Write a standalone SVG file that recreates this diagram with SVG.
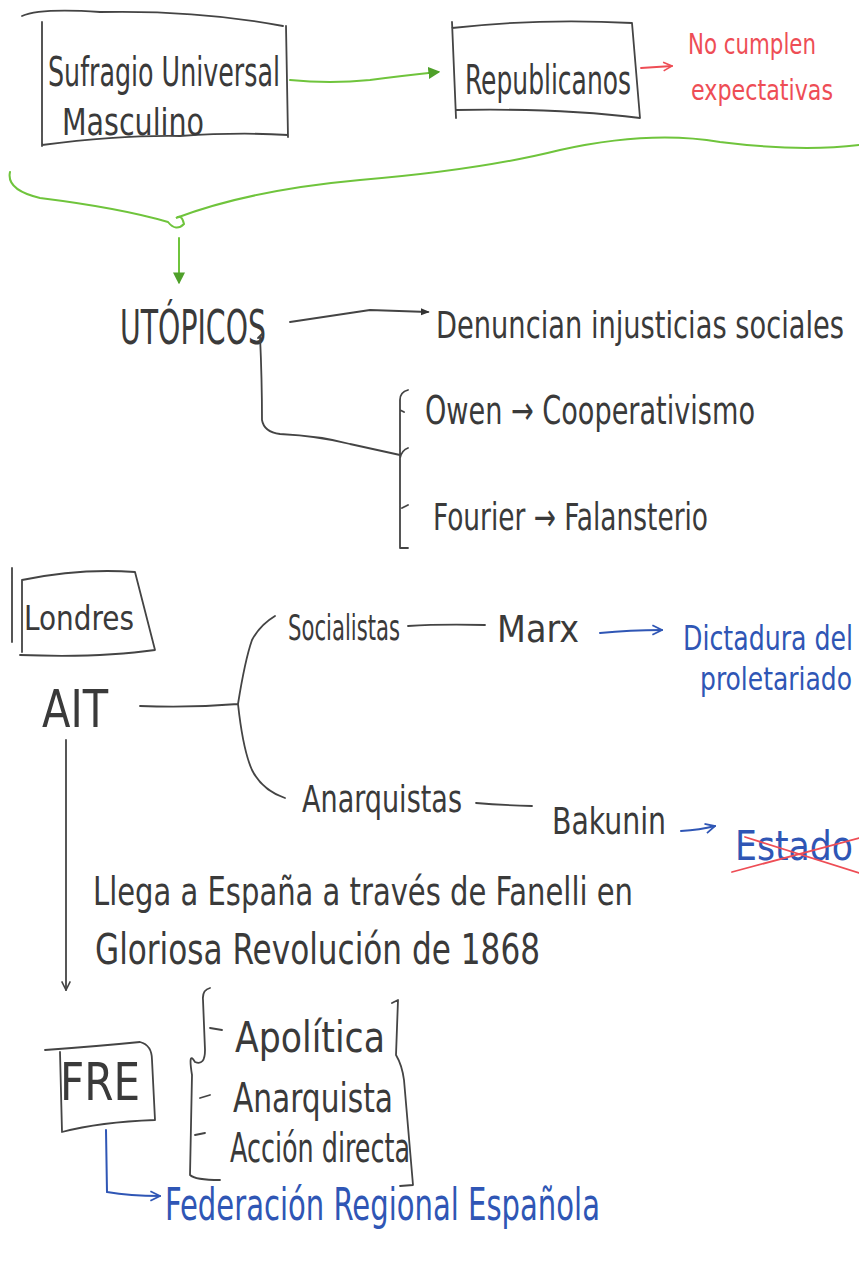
<svg xmlns="http://www.w3.org/2000/svg" width="859" height="1261" viewBox="0 0 859 1261">
<defs>
<style>
.t{font-family:"Liberation Sans Narrow","DejaVu Sans Condensed","Liberation Sans",sans-serif;fill:#3a3a3a;}
.g{fill:none;stroke:#6fc43c;stroke-width:2;stroke-linecap:round;}
.k{fill:none;stroke:#444;stroke-width:1.8;stroke-linecap:round;stroke-linejoin:round;}
.r{fill:none;stroke:#ee4d55;stroke-width:1.8;stroke-linecap:round;}
.b{fill:none;stroke:#2f56b5;stroke-width:2;stroke-linecap:round;}
.red{fill:#ee4d55;font-family:"Liberation Sans Narrow","DejaVu Sans Condensed","Liberation Sans",sans-serif;}
.blue{fill:#2f56b5;font-family:"Liberation Sans Narrow","DejaVu Sans Condensed","Liberation Sans",sans-serif;}
</style>
<marker id="ag" viewBox="0 0 10 10" refX="8" refY="5" markerWidth="6" markerHeight="6" orient="auto"><path d="M0,0 L10,5 L0,10 z" fill="#4fa02a"/></marker>
<marker id="ak" viewBox="0 0 10 10" refX="8" refY="5" markerWidth="5" markerHeight="5" orient="auto"><path d="M0,1 L10,5 L0,9 z" fill="#333"/></marker>
<marker id="ao" viewBox="0 0 10 10" refX="9" refY="5" markerWidth="6" markerHeight="6" orient="auto"><path d="M1,1 L9,5 L1,9" fill="none" stroke="#444" stroke-width="1.5"/></marker>
<marker id="ar" viewBox="0 0 10 10" refX="9" refY="5" markerWidth="6" markerHeight="6" orient="auto"><path d="M1,1 L9,5 L1,9" fill="none" stroke="#ee4d55" stroke-width="1.5"/></marker>
<marker id="ab" viewBox="0 0 10 10" refX="9" refY="5" markerWidth="6" markerHeight="6" orient="auto"><path d="M1,1 L9,5 L1,9" fill="none" stroke="#2f56b5" stroke-width="1.5"/></marker>
</defs>
<rect width="859" height="1261" fill="#fff"/>

<g id="sufragio">
<path class="k" d="M22,16 Q40,8 100,12 Q200,10 283,26 M42,22 L42,146 M286,26 L288,137 M42,145 Q120,135 180,136 Q240,132 288,135"/>
<text class="t" x="48" y="86" font-size="40" textLength="232" lengthAdjust="spacingAndGlyphs">Sufragio Universal</text>
<text class="t" x="62" y="135" font-size="38" textLength="142" lengthAdjust="spacingAndGlyphs">Masculino</text>
</g>

<g id="republicanos">
<path class="k" d="M452,22 L456,118 M452,28 Q540,18 632,23 M632,23 L640,118 M456,110 Q560,108 640,118"/>
<text class="t" x="465" y="94" font-size="40" textLength="166" lengthAdjust="spacingAndGlyphs">Republicanos</text>
</g>

<g id="expectativas">
<text class="red" transform="translate(688,54) scale(1,1.15)" font-size="25" textLength="128" lengthAdjust="spacingAndGlyphs">No cumplen</text>
<text class="red" transform="translate(691,100) scale(1,1.2)" font-size="23" textLength="142" lengthAdjust="spacingAndGlyphs">expectativas</text>
</g>

<g id="utopicos">
<text class="t" x="120" y="344" font-size="48" textLength="146" lengthAdjust="spacingAndGlyphs">UTÓPICOS</text>
</g>

<g id="denuncian">
<text class="t" transform="translate(436,338) scale(1,1.5)" font-size="25" textLength="408" lengthAdjust="spacingAndGlyphs">Denuncian injusticias sociales</text>
</g>

<g id="owen">
<text class="t" transform="translate(425,424) scale(1,1.2)" font-size="33" textLength="330" lengthAdjust="spacingAndGlyphs">Owen → Cooperativismo</text>
</g>

<g id="fourier">
<text class="t" transform="translate(433,530) scale(1,1.15)" font-size="33" textLength="275" lengthAdjust="spacingAndGlyphs">Fourier → Falansterio</text>
</g>

<g id="londres">
<path class="k" d="M12,568 L12,642 M22,580 Q80,568 135,572 L155,650 Q100,658 20,655 M22,580 L22,652"/>
<text class="t" x="24" y="630" font-size="34" textLength="110" lengthAdjust="spacingAndGlyphs">Londres</text>
</g>

<g id="ait">
<text class="t" x="42" y="727" font-size="52" textLength="66" lengthAdjust="spacingAndGlyphs">AIT</text>
</g>

<g id="socialistas">
<text class="t" x="288" y="640" font-size="36" textLength="112" lengthAdjust="spacingAndGlyphs">Socialistas</text>
</g>

<g id="marx">
<text class="t" x="497" y="642" font-size="38" textLength="82" lengthAdjust="spacingAndGlyphs">Marx</text>
</g>

<g id="dictadura">
<text class="blue" transform="translate(683,650) scale(1,1.5)" font-size="23" textLength="170" lengthAdjust="spacingAndGlyphs">Dictadura del</text>
<text class="blue" transform="translate(700,690) scale(1,1.45)" font-size="22" textLength="152" lengthAdjust="spacingAndGlyphs">proletariado</text>
</g>

<g id="anarquistas">
<text class="t" x="302" y="812" font-size="38" textLength="160" lengthAdjust="spacingAndGlyphs">Anarquistas</text>
</g>

<g id="bakunin">
<text class="t" x="552" y="834" font-size="38" textLength="114" lengthAdjust="spacingAndGlyphs">Bakunin</text>
</g>

<g id="estado">
<text class="blue" transform="translate(735,860) scale(1,1.25)" font-size="33" textLength="118" lengthAdjust="spacingAndGlyphs">Estado</text>
<path class="r" d="M732,872 L859,838 M745,837 L859,873"/>
</g>

<g id="llega">
<text class="t" transform="translate(93,905) scale(1,1.1)" font-size="36" textLength="540" lengthAdjust="spacingAndGlyphs">Llega a España a través de Fanelli en</text>
<text class="t" x="95" y="964" font-size="42" textLength="445" lengthAdjust="spacingAndGlyphs">Gloriosa Revolución de 1868</text>
</g>

<g id="fre">
<path class="k" d="M45,1050 Q100,1046 140,1042 Q152,1045 152,1060 L155,1120 Q100,1122 62,1132 L60,1052"/>
<text class="t" x="60" y="1100" font-size="52" textLength="80" lengthAdjust="spacingAndGlyphs">FRE</text>
</g>

<g id="caracteristicas">
<path class="k" d="M210,988 Q202,990 203,1000 L205,1050 Q205,1066 195,1062 Q188,1050 192,1075 L190,1175 Q195,1180 220,1180 M210,1028 L222,1030 M200,1098 L210,1095 M195,1135 L205,1133"/>
<path class="k" d="M392,1003 L398,1000 L396,1055 Q402,1065 404,1080 L413,1185 L400,1186"/>
<text class="t" x="235" y="1052" font-size="42" textLength="150" lengthAdjust="spacingAndGlyphs">Apolítica</text>
<text class="t" x="233" y="1112" font-size="40" textLength="160" lengthAdjust="spacingAndGlyphs">Anarquista</text>
<text class="t" x="230" y="1162" font-size="40" textLength="180" lengthAdjust="spacingAndGlyphs">Acción directa</text>
</g>

<g id="federacion">
<text class="blue" x="165" y="1220" font-size="44" textLength="435" lengthAdjust="spacingAndGlyphs">Federación Regional Española</text>
</g>

<g id="connectors">
<path class="g" d="M290,80 Q330,84 370,80 Q400,76 438,72" marker-end="url(#ag)" stroke-width="2.5"/>
<path class="r" d="M641,68 L672,66" marker-end="url(#ar)"/>
<path class="g" d="M10,172 Q6,190 40,198 Q120,208 168,222 Q176,232 184,224 Q182,214 176,218 Q250,190 360,180 Q480,170 560,150 Q650,130 720,142 Q800,152 859,145"/>
<path class="g" d="M179,238 L179,282" marker-end="url(#ag)"/>
<path class="k" d="M290,322 Q330,316 370,310 L428,312" marker-end="url(#ak)"/>
<path class="k" d="M262,334 L258,338 M260,336 Q262,380 262,420 Q264,432 280,434 Q320,436 350,444 L400,455"/>
<path class="k" d="M408,390 Q400,392 400,400 L400,548 L408,548 M400,410 L404,412 M400,458 Q402,450 408,448 M402,508 L408,505"/>
<path class="k" d="M140,706 Q190,708 238,704 M238,704 Q245,660 252,640 Q260,625 275,616 M238,704 Q243,750 252,770 Q262,790 285,798"/>
<path class="k" d="M408,626 Q440,624 485,625"/>
<path class="b" d="M600,633 Q630,630 662,630" marker-end="url(#ab)"/>
<path class="k" d="M476,803 Q500,805 532,806"/>
<path class="b" d="M681,831 Q700,830 715,826" marker-end="url(#ab)"/>
<path class="k" d="M66,740 L66,990" marker-end="url(#ao)"/>
<path class="b" d="M106,1130 L107,1192 Q130,1196 160,1196" marker-end="url(#ab)"/>
</g>
</svg>
